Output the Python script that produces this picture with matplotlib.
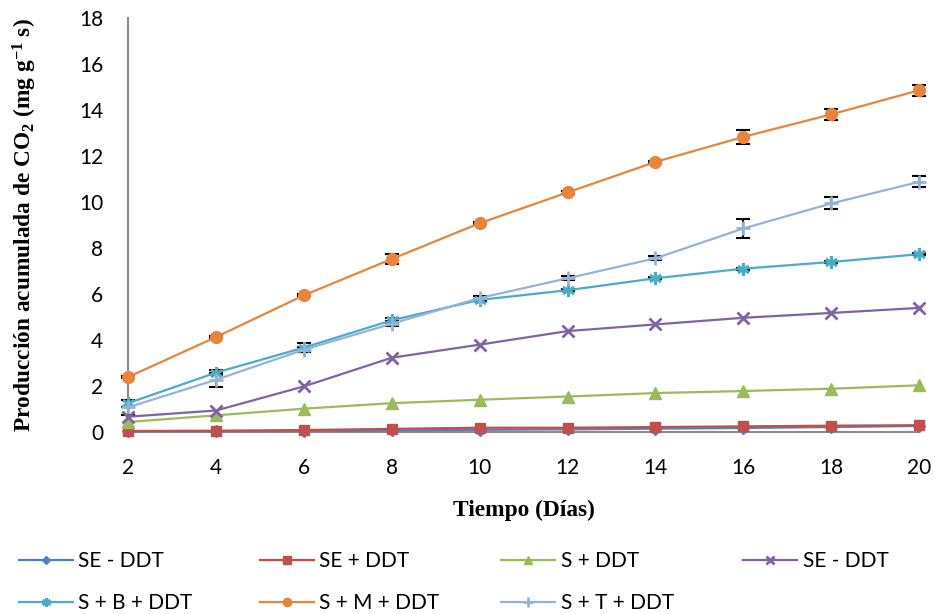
import matplotlib
matplotlib.use("Agg")
import matplotlib.pyplot as plt

dias = [2, 4, 6, 8, 10, 12, 14, 16, 18, 20]

se_menos = [0.02, 0.02, 0.03, 0.05, 0.08, 0.10, 0.13, 0.16, 0.20, 0.25]
se_mas = [0.03, 0.04, 0.07, 0.12, 0.17, 0.17, 0.20, 0.23, 0.26, 0.28]
s_ddt = [0.42, 0.71, 1.0, 1.24, 1.39, 1.53, 1.68, 1.77, 1.87, 2.02]
se_menos2 = [0.65, 0.92, 1.97, 3.22, 3.79, 4.38, 4.67, 4.96, 5.17, 5.39]
s_b_ddt = [1.24, 2.57, 3.66, 4.85, 5.74, 6.16, 6.68, 7.10, 7.39, 7.73]
s_m_ddt = [2.38, 4.12, 5.94, 7.52, 9.08, 10.42, 11.75, 12.84, 13.82, 14.87]
s_t_ddt = [1.06, 2.26, 3.57, 4.70, 5.82, 6.68, 7.55, 8.85, 9.94, 10.88]

err_b = [0.15, 0.1, 0.2, 0.1, 0.05, 0.05, 0.05, 0.05, 0.05, 0.05]
err_m = [0.05, 0.05, 0.05, 0.2, 0.05, 0.05, 0.05, 0.32, 0.25, 0.25]
err_t = [0.32, 0.3, 0.1, 0.1, 0.08, 0.08, 0.08, 0.42, 0.26, 0.24]

etiquetas = ["SE - DDT", "SE + DDT", "S + DDT", "SE - DDT",
             "S + B + DDT", "S + M + DDT", "S + T + DDT"]

plt.rcParams['mathtext.default'] = 'regular'

fig = plt.figure(figsize=(9.35, 6.14), dpi=100)
ax = fig.add_axes([0.137, 0.297, 0.846, 0.673])

series = [
    (se_menos, None, '#4F81BD', 'D', 6),
    (se_mas, None, '#C0504D', 's', 7.5),
    (s_ddt, None, '#9BBB59', '^', 8),
    (se_menos2, None, '#8064A2', 'x', 8),
    (s_b_ddt, err_b, '#4BACC6', (6, 2, 0), 9),
    (s_m_ddt, err_m, '#E8843C', 'o', 8.5),
    (s_t_ddt, err_t, '#95B3D7', '+', 10),
]

handles = []
for (vals, err, color, mk, ms), lab in zip(series, etiquetas):
    if err is not None:
        ax.errorbar(dias, vals, yerr=err, fmt='none', ecolor='black',
                    elinewidth=1.5, capsize=5, capthick=1.5, zorder=4,
                    clip_on=False)
    line, = ax.plot(dias, vals, color=color, lw=1.6, marker=mk, ms=ms,
                    mew=2 if mk in ('x', '+', (6, 2, 0)) else 1,
                    mec=color, mfc=color, label=lab, zorder=5, clip_on=False)
    handles.append(line)

ax.set_xlim(2, 20)
ax.set_ylim(0, 18)
ax.set_xticks(dias)
ax.set_yticks(range(0, 19, 2))

for s in ['top', 'right']:
    ax.spines[s].set_visible(False)
for s in ['left', 'bottom']:
    ax.spines[s].set_color('#8c8c8c')
    ax.spines[s].set_linewidth(1.5)
ax.spines['bottom'].set_zorder(1)

ax.tick_params(axis='both', length=0, labelsize=15)
ax.tick_params(axis='x', pad=19)
ax.tick_params(axis='y', pad=18)
for t in ax.get_xticklabels() + ax.get_yticklabels():
    t.set_family('Lato')

ax.set_xlabel('Tiempo (Días)', family='Liberation Serif', fontweight='bold',
              fontsize=16.8, labelpad=16)
ax.set_ylabel('Producción acumulada de CO$_2$ (mg g$^{-1}$ s)',
              family='Liberation Serif', fontweight='bold', fontsize=16.8)
ax.yaxis.set_label_coords(-0.113, 0.5)

# one legend per column, evenly spaced like the original
col_x = [0.020, 0.278, 0.536, 0.795]
for c, x0 in enumerate(col_x):
    idx = [i for i in (c, c + 4) if i < len(handles)]
    fig.legend(handles=[handles[i] for i in idx],
               labels=[etiquetas[i] for i in idx],
               loc='upper left', bbox_to_anchor=(x0, 0.102), frameon=False,
               prop={'family': 'Lato', 'size': 15}, handlelength=2.6,
               handletextpad=0.25, labelspacing=1.05, borderaxespad=0,
               borderpad=0, markerscale=0.7)

fig.savefig('out.png', dpi=100)
